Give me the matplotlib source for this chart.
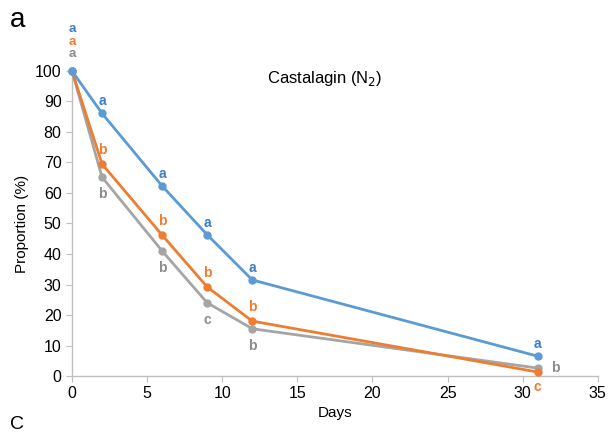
#!/usr/bin/env python3

import matplotlib
matplotlib.use("Agg")
import matplotlib.pyplot as plt

plt.rcParams['font.family'] = ['Liberation Sans', 'DejaVu Sans']

days = [0, 2, 6, 9, 12, 31]
blue = [100, 86.1, 62.3, 46.3, 31.5, 6.5]
orange = [100, 69.5, 46.2, 29.2, 18.0, 1.3]
gray = [100, 65.2, 41.0, 24.0, 15.5, 2.6]

blue_letters = ['a', 'a', 'a', 'a', 'a', 'a']
orange_letters = ['a', 'b', 'b', 'b', 'b', 'c']
gray_letters = ['a', 'b', 'b', 'c', 'b', 'b']

c_blue = '#5B9BD5'
c_orange = '#ED7D31'
c_gray = '#A5A5A5'

fig = plt.figure(figsize=(6.1, 4.33), dpi=100)
ax = fig.add_axes([0.118, 0.1316, 0.862, 0.7045])

for y, c in [(gray, c_gray), (orange, c_orange), (blue, c_blue)]:
    ax.plot(days, y, color=c, lw=2, marker='o', ms=5, clip_on=False, zorder=3)

ax.set_xlim(0, 35)
ax.set_ylim(0, 100)
ax.set_xticks(range(0, 36, 5))
ax.set_yticks(range(0, 101, 10))

for s in ['top', 'right']:
    ax.spines[s].set_visible(False)
for s in ['left', 'bottom']:
    ax.spines[s].set_color('#BFBFBF')
    ax.spines[s].set_linewidth(1)
ax.tick_params(axis='both', colors='#BFBFBF', labelcolor='black', labelsize=11.5, length=4)

ax.set_xlabel('Days', fontsize=11, labelpad=3)
ax.set_ylabel('Proportion (%)', fontsize=11, labelpad=4)

kw = dict(fontsize=10, fontweight='bold', ha='center')
# day 0: stacked letters (tight stack like the original)
kw0 = dict(kw, fontsize=9.5)
ax.text(0, 113.6, blue_letters[0], color='#3C7DC4', va='center', **kw0)
ax.text(0, 109.6, orange_letters[0], color=c_orange, va='center', **kw0)
ax.text(0, 105.6, gray_letters[0], color='#8C8C8C', va='center', **kw0)

for i in range(1, 5):
    ax.text(days[i], blue[i] + 4, blue_letters[i], color='#3C7DC4', va='center', **kw)
    ax.text(days[i], orange[i] + 4.5, orange_letters[i], color=c_orange, va='center', **kw)
    ax.text(days[i], gray[i] - 5.5, gray_letters[i], color='#8C8C8C', va='center', **kw)

ax.text(days[5], blue[5] + 4, blue_letters[5], color='#3C7DC4', va='center', **kw)
ax.text(days[5], orange[5] - 5, orange_letters[5], color=c_orange, va='center', **kw)
ax.text(days[5] + 1.2, gray[5], gray_letters[5], color='#8C8C8C', va='center', **kw)

ax.text(16.8, 97.5, 'Castalagin (N$_2$)', fontsize=12, ha='center', va='center')

fig.text(0.016, 0.953, 'a', fontsize=20, va='center', ha='left')
fig.text(0.016, 0.0, 'C', fontsize=14, va='bottom', ha='left')

fig.savefig('out.png', dpi=100)
